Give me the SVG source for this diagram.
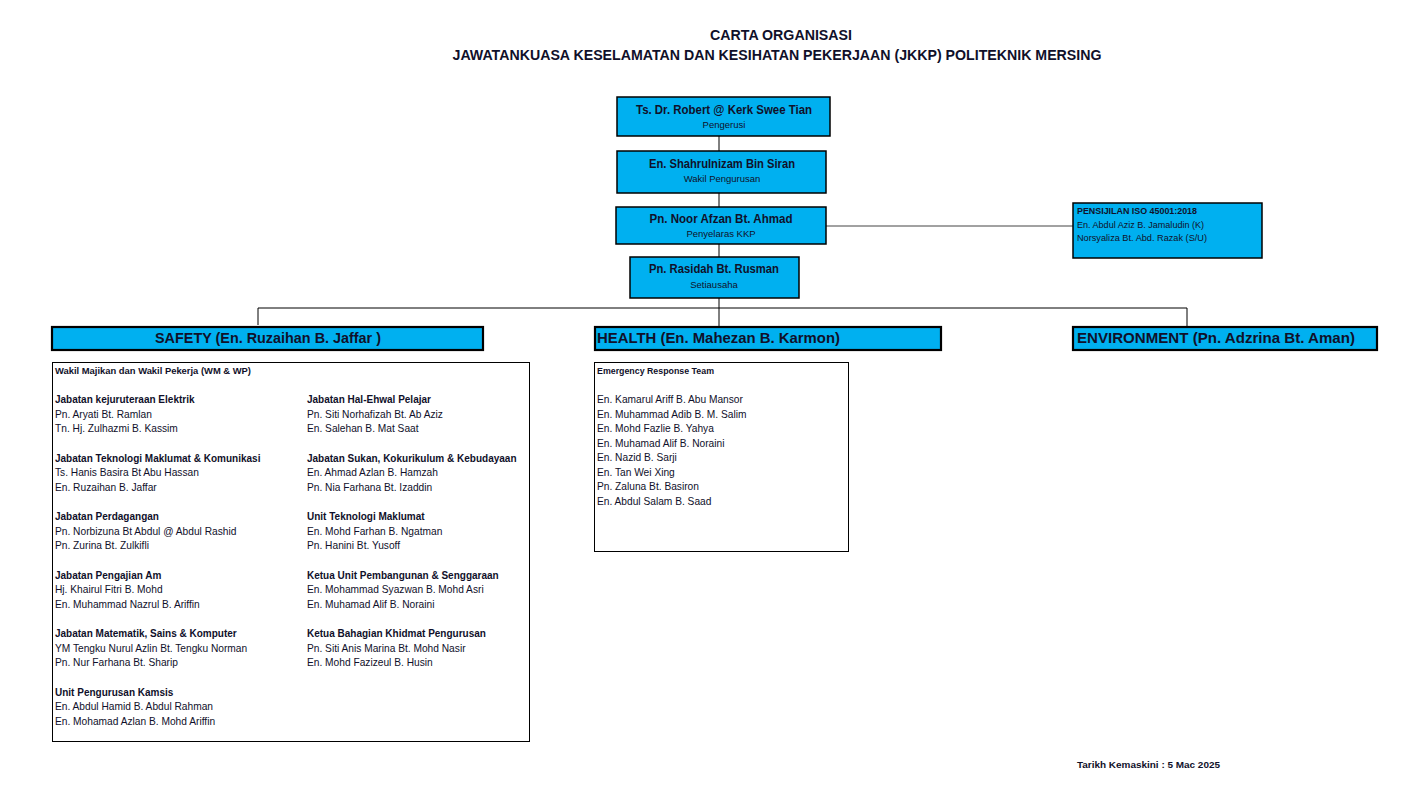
<svg xmlns="http://www.w3.org/2000/svg" width="1418" height="785" viewBox="0 0 1418 785">
<style>
text{font-family:"Liberation Sans",Arial,sans-serif;fill:#10102a}
.t{font-size:14px;font-weight:bold;text-anchor:middle}
.nm{font-size:12px;font-weight:bold;text-anchor:middle}
.rl{font-size:9.5px;text-anchor:middle}
.hd{font-size:15px;font-weight:bold}
.b{font-size:10px;font-weight:bold}
.r{font-size:10.2px}
.s{font-size:9px}
.sb{font-size:9px;font-weight:bold}
.box{fill:#00B0F0;stroke:#000;stroke-width:1.5}
.hbox{fill:#00B0F0;stroke:#000;stroke-width:2.2}
.panel{fill:#fff;stroke:#000;stroke-width:1}
.ln{stroke:#000;stroke-width:1;fill:none}
</style>
<rect width="1418" height="785" fill="#fff"/>
<g id="title">
<text class="t" x="781" y="40" textLength="142" lengthAdjust="spacingAndGlyphs">CARTA ORGANISASI</text>
<text class="t" x="777" y="60" textLength="649" lengthAdjust="spacingAndGlyphs">JAWATANKUASA KESELAMATAN DAN KESIHATAN PEKERJAAN (JKKP) POLITEKNIK MERSING</text>
</g>
<g id="connectors">
<line class="ln" x1="719" y1="136" x2="719" y2="151"/>
<line class="ln" x1="719" y1="193" x2="719" y2="207"/>
<line class="ln" x1="719" y1="244" x2="719" y2="257"/>
<line class="ln" x1="719" y1="298" x2="719" y2="327"/>
<line x1="826" y1="226" x2="1073" y2="226" stroke="#444" stroke-width="1"/>
<polyline class="ln" points="258,325 258,308 1187,308 1187,326"/>
</g>
<g id="pengerusi">
<rect class="box" x="617" y="97" width="213" height="39"/>
<text class="nm" x="724" y="114" textLength="176" lengthAdjust="spacingAndGlyphs">Ts. Dr. Robert @ Kerk Swee Tian</text>
<text class="rl" x="724" y="128">Pengerusi</text>
</g>
<g id="wakil-pengurusan">
<rect class="box" x="617" y="151" width="209" height="42"/>
<text class="nm" x="722" y="168" textLength="146" lengthAdjust="spacingAndGlyphs">En. Shahrulnizam Bin Siran</text>
<text class="rl" x="722" y="182">Wakil Pengurusan</text>
</g>
<g id="penyelaras">
<rect class="box" x="616" y="207" width="210" height="37"/>
<text class="nm" x="721" y="223" textLength="143" lengthAdjust="spacingAndGlyphs">Pn. Noor Afzan Bt. Ahmad</text>
<text class="rl" x="721" y="237">Penyelaras KKP</text>
</g>
<g id="setiausaha">
<rect class="box" x="630" y="257" width="169" height="41"/>
<text class="nm" x="714" y="273" textLength="130" lengthAdjust="spacingAndGlyphs">Pn. Rasidah Bt. Rusman</text>
<text class="rl" x="714" y="288">Setiausaha</text>
</g>
<g id="iso">
<rect class="box" x="1073" y="203" width="189" height="55"/>
<text class="sb" x="1077" y="214" textLength="120" lengthAdjust="spacingAndGlyphs">PENSIJILAN ISO 45001:2018</text>
<text class="s" x="1077" y="228" textLength="127" lengthAdjust="spacingAndGlyphs">En. Abdul Aziz B. Jamaludin (K)</text>
<text class="s" x="1077" y="241" textLength="130" lengthAdjust="spacingAndGlyphs">Norsyaliza Bt. Abd. Razak (S/U)</text>
</g>
<g id="safety">
<rect class="hbox" x="52" y="327" width="431" height="23"/>
<text class="hd" x="155" y="343" textLength="226" lengthAdjust="spacingAndGlyphs">SAFETY (En. Ruzaihan B. Jaffar )</text>
</g>
<g id="health">
<rect class="hbox" x="595" y="327" width="346" height="23"/>
<text class="hd" x="597" y="343" textLength="243" lengthAdjust="spacingAndGlyphs">HEALTH (En. Mahezan B. Karmon)</text>
</g>
<g id="environment">
<rect class="hbox" x="1073" y="327" width="304" height="23"/>
<text class="hd" x="1077" y="343" textLength="278" lengthAdjust="spacingAndGlyphs">ENVIRONMENT (Pn. Adzrina Bt. Aman)</text>
</g>
<g id="safety-members">
<rect class="panel" x="52.5" y="362.5" width="477" height="379"/>
<text class="sb" x="55" y="374" textLength="196" lengthAdjust="spacingAndGlyphs">Wakil Majikan dan Wakil Pekerja (WM &amp; WP)</text>
<text class="b" x="55" y="403">Jabatan kejuruteraan Elektrik</text>
<text class="r" x="55" y="417.5">Pn. Aryati Bt. Ramlan</text>
<text class="r" x="55" y="432">Tn. Hj. Zulhazmi B. Kassim</text>
<text class="b" x="55" y="461.5">Jabatan Teknologi Maklumat &amp; Komunikasi</text>
<text class="r" x="55" y="476">Ts. Hanis Basira Bt Abu Hassan</text>
<text class="r" x="55" y="490.5">En. Ruzaihan B. Jaffar</text>
<text class="b" x="55" y="520">Jabatan Perdagangan</text>
<text class="r" x="55" y="534.5">Pn. Norbizuna Bt Abdul @ Abdul Rashid</text>
<text class="r" x="55" y="549">Pn. Zurina Bt. Zulkifli</text>
<text class="b" x="55" y="578.5">Jabatan Pengajian Am</text>
<text class="r" x="55" y="593">Hj. Khairul Fitri B. Mohd</text>
<text class="r" x="55" y="607.5">En. Muhammad Nazrul B. Ariffin</text>
<text class="b" x="55" y="637">Jabatan Matematik, Sains &amp; Komputer</text>
<text class="r" x="55" y="651.5">YM Tengku Nurul Azlin Bt. Tengku Norman</text>
<text class="r" x="55" y="666">Pn. Nur Farhana Bt. Sharip</text>
<text class="b" x="55" y="695.5">Unit Pengurusan Kamsis</text>
<text class="r" x="55" y="710">En. Abdul Hamid B. Abdul Rahman</text>
<text class="r" x="55" y="724.5">En. Mohamad Azlan B. Mohd Ariffin</text>
<text class="b" x="307" y="403">Jabatan Hal-Ehwal Pelajar</text>
<text class="r" x="307" y="417.5">Pn. Siti Norhafizah Bt. Ab Aziz</text>
<text class="r" x="307" y="432">En. Salehan B. Mat Saat</text>
<text class="b" x="307" y="461.5">Jabatan Sukan, Kokurikulum &amp; Kebudayaan</text>
<text class="r" x="307" y="476">En. Ahmad Azlan B. Hamzah</text>
<text class="r" x="307" y="490.5">Pn. Nia Farhana Bt. Izaddin</text>
<text class="b" x="307" y="520">Unit Teknologi Maklumat</text>
<text class="r" x="307" y="534.5">En. Mohd Farhan B. Ngatman</text>
<text class="r" x="307" y="549">Pn. Hanini Bt. Yusoff</text>
<text class="b" x="307" y="578.5">Ketua Unit Pembangunan &amp; Senggaraan</text>
<text class="r" x="307" y="593">En. Mohammad Syazwan B. Mohd Asri</text>
<text class="r" x="307" y="607.5">En. Muhamad Alif B. Noraini</text>
<text class="b" x="307" y="637">Ketua Bahagian Khidmat Pengurusan</text>
<text class="r" x="307" y="651.5">Pn. Siti Anis Marina Bt. Mohd Nasir</text>
<text class="r" x="307" y="666">En. Mohd Fazizeul B. Husin</text>
</g>
<g id="health-members">
<rect class="panel" x="594.5" y="362.5" width="254" height="189"/>
<text class="sb" x="597" y="374" textLength="117" lengthAdjust="spacingAndGlyphs">Emergency Response Team</text>
<text class="r" x="597" y="403">En. Kamarul Ariff B. Abu Mansor</text>
<text class="r" x="597" y="417.5">En. Muhammad Adib B. M. Salim</text>
<text class="r" x="597" y="432">En. Mohd Fazlie B. Yahya</text>
<text class="r" x="597" y="446.5">En. Muhamad Alif B. Noraini</text>
<text class="r" x="597" y="461">En. Nazid B. Sarji</text>
<text class="r" x="597" y="475.5">En. Tan Wei Xing</text>
<text class="r" x="597" y="490">Pn. Zaluna Bt. Basiron</text>
<text class="r" x="597" y="504.5">En. Abdul Salam B. Saad</text>
</g>
<g id="footer">
<text class="sb" x="1077" y="768" textLength="143" lengthAdjust="spacingAndGlyphs">Tarikh Kemaskini : 5 Mac 2025</text>
</g>
</svg>
